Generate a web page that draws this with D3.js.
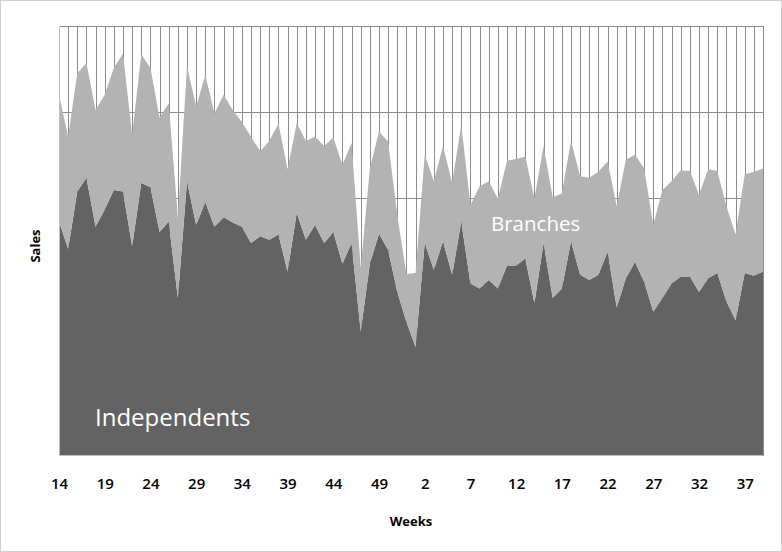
<!DOCTYPE html>
<html>
<head>
<meta charset="utf-8">
<script src="https://cdn.jsdelivr.net/npm/d3@7/dist/d3.min.js"></script>
<style>
  html, body { margin: 0; padding: 0; background: #fff; }
  svg { display: block; }
  text { font-family: "Open Sans", Lato, "DejaVu Sans", sans-serif; }
</style>
</head>
<body>
<svg id="chart" width="782" height="552"></svg>
<script>
// Week numbers along the x axis (two seasons: weeks 14–52, then 1–39)
const weeks = [
  14,15,16,17,18,19,20,21,22,23,24,25,26,27,28,29,30,31,32,33,
  34,35,36,37,38,39,40,41,42,43,44,45,46,47,48,49,50,51,52,
  1,2,3,4,5,6,7,8,9,10,11,12,13,14,15,16,17,18,19,20,
  21,22,23,24,25,26,27,28,29,30,31,32,33,34,35,36,37,38,39
];

// Weekly sales, independents (bottom layer)
const independents = [
  272,240,307,323,266,286,309,307,243,317,312,260,272,183,319,268,295,266,277,271,
  266,247,255,251,257,214,282,251,268,247,260,223,247,144,223,258,239,190,155,
  126,247,216,249,210,272,200,194,204,194,221,221,229,177,247,183,194,249,210,204,
  210,237,172,206,225,202,167,183,200,208,208,190,206,212,179,157,212,209,214
];

// Weekly sales, branches (stacked on top)
const branches = [
  148,131,138,134,136,134,142,161,130,150,139,133,138,94,134,138,148,132,143,131,
  122,124,99,115,129,119,105,115,103,113,110,115,117,74,111,119,126,89,56,
  86,103,103,111,107,113,91,119,115,105,122,124,119,122,113,117,111,117,115,119,
  120,105,118,138,125,132,101,126,119,124,123,113,127,119,111,100,115,121,120
];

// Tick labels shown every fifth week
const tickEvery = 5;

const svg = d3.select("#chart");
const W = 782, H = 552;
const margin = { left: 59, right: 19, top: 26, bottom: 97 };
const innerW = W - margin.left - margin.right;
const innerH = H - margin.top - margin.bottom;

// Outer frame of the chart
svg.append("rect")
  .attr("x", 0.5).attr("y", 0.5)
  .attr("width", W - 1).attr("height", H - 1)
  .attr("fill", "#fff").attr("stroke", "#d0d0d0");

const g = svg.append("g").attr("transform", `translate(${margin.left},${margin.top})`);

const x = d3.scaleLinear().domain([0, weeks.length - 1]).range([0, innerW]);
const y = d3.scaleLinear().domain([0, 500]).range([innerH, 0]);

// Gridlines: one vertical line per week, horizontal every 100
g.append("g").selectAll("line.v")
  .data(d3.range(weeks.length))
  .join("line")
  .attr("x1", i => Math.round(x(i)) + 0.5).attr("x2", i => Math.round(x(i)) + 0.5)
  .attr("y1", 0).attr("y2", innerH)
  .attr("stroke", "#8c8c8c").attr("stroke-width", 1);

g.append("g").selectAll("line.h")
  .data(y.ticks(5))
  .join("line")
  .attr("x1", 0).attr("x2", innerW)
  .attr("y1", d => Math.round(y(d)) + 0.5).attr("y2", d => Math.round(y(d)) + 0.5)
  .attr("stroke", "#8c8c8c").attr("stroke-width", 1);

// Stacked areas
const rows = weeks.map((w, i) => ({ i, independents: independents[i], branches: branches[i] }));
const stack = d3.stack().keys(["independents", "branches"]);
const layers = stack(rows);
const colors = { independents: "#636363", branches: "#b3b3b3" };

const area = d3.area()
  .x(d => x(d.data.i))
  .y0(d => y(d[0]))
  .y1(d => y(d[1]));

g.selectAll("path.layer")
  .data(layers)
  .join("path")
  .attr("class", "layer")
  .attr("d", area)
  .attr("fill", d => colors[d.key]);

// Plot border
g.append("rect")
  .attr("x", 0.5).attr("y", 0.5)
  .attr("width", innerW).attr("height", innerH)
  .attr("fill", "none").attr("stroke", "#8c8c8c");

// Axis lines (left and bottom)
g.append("line").attr("x1", 0.5).attr("x2", 0.5).attr("y1", 0).attr("y2", innerH + 0.5)
  .attr("stroke", "#c0c0c0");
g.append("line").attr("x1", 0).attr("x2", innerW).attr("y1", innerH + 0.5).attr("y2", innerH + 0.5)
  .attr("stroke", "#c0c0c0");

// X axis tick labels
const xAxis = d3.axisBottom(x)
  .tickValues(d3.range(0, weeks.length, tickEvery))
  .tickFormat(i => weeks[i])
  .tickSize(0)
  .tickPadding(23);

const ax = g.append("g").attr("transform", `translate(0,${innerH})`).call(xAxis);
ax.select(".domain").remove();
ax.selectAll("text")
  .attr("font-family", "'Open Sans', Lato, sans-serif")
  .attr("font-size", 15)
  .attr("font-weight", 600)
  .attr("fill", "#000");

// Axis titles
svg.append("text")
  .attr("x", 411).attr("y", 526)
  .attr("text-anchor", "middle")
  .attr("font-size", 13).attr("font-weight", 700)
  .attr("fill", "#000")
  .text("Weeks");

svg.append("text")
  .attr("transform", "translate(40,246) rotate(-90)")
  .attr("text-anchor", "middle")
  .attr("font-size", 13).attr("font-weight", 700)
  .attr("fill", "#000")
  .text("Sales");

// Series labels
svg.append("text")
  .attr("x", 491).attr("y", 231)
  .attr("font-size", 20.5)
  .attr("fill", "#fff")
  .text("Branches");

svg.append("text")
  .attr("x", 95).attr("y", 426)
  .attr("font-size", 24)
  .attr("fill", "#fff")
  .text("Independents");
</script>
</body>
</html>
